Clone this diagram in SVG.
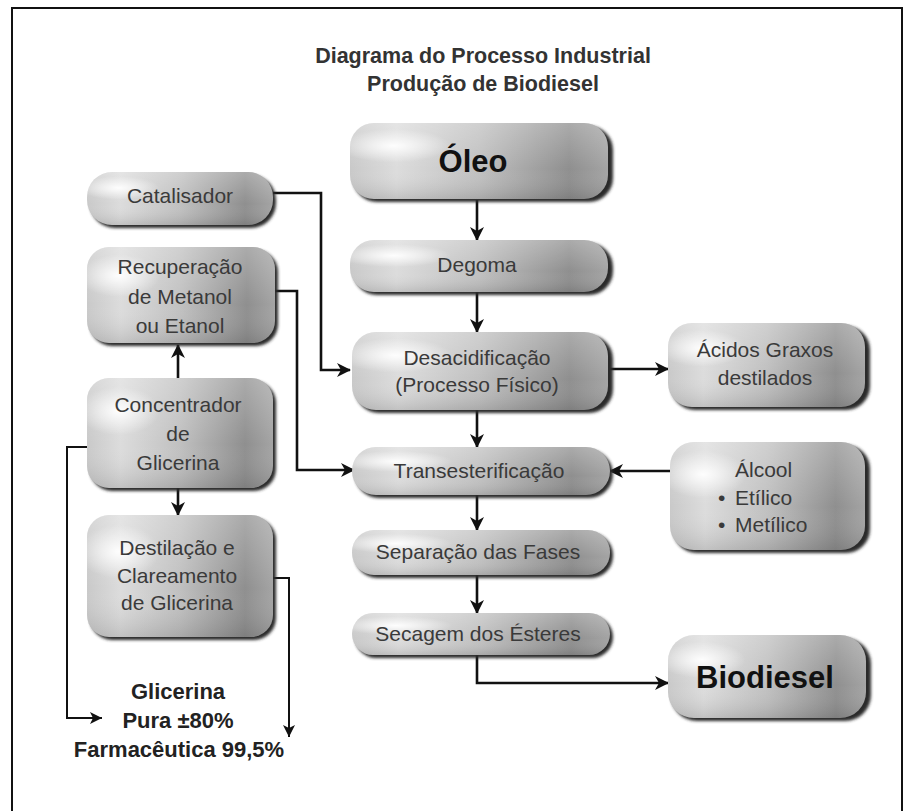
<svg xmlns="http://www.w3.org/2000/svg" width="906" height="811" viewBox="0 0 906 811">
  <defs>
    <linearGradient id="bodyH" x1="0" y1="0" x2="1" y2="0">
      <stop offset="0" stop-color="#c9c9c9"/>
      <stop offset="0.18" stop-color="#dcdcdc"/>
      <stop offset="0.5" stop-color="#c0c0c0"/>
      <stop offset="0.85" stop-color="#8f8f8f"/>
      <stop offset="1" stop-color="#a4a4a4"/>
    </linearGradient>
    <linearGradient id="bodyV" x1="0" y1="0" x2="0" y2="1">
      <stop offset="0" stop-color="#ffffff" stop-opacity="0.25"/>
      <stop offset="0.6" stop-color="#ffffff" stop-opacity="0"/>
      <stop offset="1" stop-color="#000000" stop-opacity="0.12"/>
    </linearGradient>
    <radialGradient id="shine" cx="0.17" cy="0.3" r="0.22">
      <stop offset="0" stop-color="#ffffff" stop-opacity="0.95"/>
      <stop offset="1" stop-color="#ffffff" stop-opacity="0"/>
    </radialGradient>
    <filter id="soft" x="-10%" y="-10%" width="120%" height="130%">
      <feGaussianBlur stdDeviation="1.4"/>
    </filter>
    <marker id="arr" markerUnits="userSpaceOnUse" markerWidth="16" markerHeight="14" refX="13" refY="7" orient="auto">
      <path d="M0,0 L14,7 L0,14 L4,7 z" fill="#111"/>
    </marker>
    <marker id="arrS" markerUnits="userSpaceOnUse" markerWidth="14" markerHeight="12" refX="12" refY="6" orient="auto">
      <path d="M0,0 L12,6 L0,12 L3,6 z" fill="#111"/>
    </marker>
  </defs>
  <style>
    .frame { fill: #ffffff; stroke: #111; stroke-width: 2; }
    .shadow { fill: #2b2b2b; filter: url(#soft); }
    .body { fill: url(#bodyH); }
    .tone { fill: url(#bodyV); }
    .shine { fill: url(#shine); }
    .lbl { font-family: "Liberation Sans", Arial, sans-serif; font-size: 21px; fill: #3a3a3a; text-anchor: middle; }
    .lbl.left { text-anchor: start; }
    .big { font-family: "Liberation Sans", Arial, sans-serif; font-weight: bold; fill: #111; text-anchor: middle; }
    .title { font-family: "Liberation Sans", Arial, sans-serif; font-weight: bold; font-size: 21.5px; fill: #333; text-anchor: middle; }
    .glic { font-family: "Liberation Sans", Arial, sans-serif; font-weight: bold; font-size: 22px; fill: #222; text-anchor: middle; }
    .wire { fill: none; stroke: #111; stroke-width: 2.6; }
    .thin { fill: none; stroke: #111; stroke-width: 2; }
  </style>

  <!-- page frame -->
  <rect class="frame" x="12" y="8" width="890" height="820"/>

  <!-- title -->
  <text class="title" x="483" y="63">Diagrama do Processo Industrial</text>
  <text class="title" x="483" y="91">Produção de Biodiesel</text>

  <!-- connectors -->
  <g id="connectors">
    <line class="wire" x1="477" y1="200" x2="477" y2="240" marker-end="url(#arr)"/>
    <line class="wire" x1="477" y1="292" x2="477" y2="332" marker-end="url(#arr)"/>
    <line class="wire" x1="477" y1="410" x2="477" y2="447" marker-end="url(#arr)"/>
    <line class="wire" x1="477" y1="495" x2="477" y2="530" marker-end="url(#arr)"/>
    <line class="wire" x1="477" y1="575" x2="477" y2="613" marker-end="url(#arr)"/>
    <polyline class="wire" points="477,655 477,683 668,683" marker-end="url(#arr)"/>
    <line class="wire" x1="608" y1="369" x2="668" y2="369" marker-end="url(#arr)"/>
    <line class="wire" x1="670" y1="471" x2="610" y2="471" marker-end="url(#arr)"/>
    <polyline class="wire" points="273,193 321,193 321,370 350,370" marker-end="url(#arr)"/>
    <polyline class="wire" points="275,291 297,291 297,470 354,470" marker-end="url(#arr)"/>
    <line class="wire" x1="178" y1="378" x2="178" y2="345" marker-end="url(#arr)"/>
    <line class="wire" x1="178" y1="488" x2="178" y2="515" marker-end="url(#arr)"/>
    <polyline class="thin" points="90,447 67,447 67,718 102,718" marker-end="url(#arrS)"/>
    <polyline class="thin" points="273,578 289,578 289,737" marker-end="url(#arrS)"/>
  </g>

  <!-- main column -->
  <g id="oleo">
    <rect class="shadow" x="353" y="126" width="260" height="76" rx="24"/>
    <rect class="body" x="350" y="123" width="258" height="76" rx="24"/>
    <rect class="tone" x="350" y="123" width="258" height="76" rx="24"/>
    <rect class="shine" x="350" y="123" width="258" height="76" rx="24"/>
    <text class="big" x="473" y="172" font-size="31">Óleo</text>
  </g>
  <g id="degoma">
    <rect class="shadow" x="353" y="243" width="260" height="52" rx="24"/>
    <rect class="body" x="350" y="240" width="258" height="52" rx="24"/>
    <rect class="tone" x="350" y="240" width="258" height="52" rx="24"/>
    <rect class="shine" x="350" y="240" width="258" height="52" rx="24"/>
    <text class="lbl" x="477" y="272">Degoma</text>
  </g>
  <g id="desacidificacao">
    <rect class="shadow" x="355" y="335" width="258" height="78" rx="24"/>
    <rect class="body" x="352" y="332" width="256" height="78" rx="24"/>
    <rect class="tone" x="352" y="332" width="256" height="78" rx="24"/>
    <rect class="shine" x="352" y="332" width="256" height="78" rx="24"/>
    <text class="lbl" x="477" y="365">Desacidificação</text>
    <text class="lbl" x="477" y="392">(Processo Físico)</text>
  </g>
  <g id="transesterificacao">
    <rect class="shadow" x="355" y="450" width="258" height="48" rx="24"/>
    <rect class="body" x="352" y="447" width="258" height="48" rx="24"/>
    <rect class="tone" x="352" y="447" width="258" height="48" rx="24"/>
    <rect class="shine" x="352" y="447" width="258" height="48" rx="24"/>
    <text class="lbl" x="479" y="478">Transesterificação</text>
  </g>
  <g id="separacao">
    <rect class="shadow" x="355" y="533" width="258" height="45" rx="22"/>
    <rect class="body" x="352" y="530" width="258" height="45" rx="22"/>
    <rect class="tone" x="352" y="530" width="258" height="45" rx="22"/>
    <rect class="shine" x="352" y="530" width="258" height="45" rx="22"/>
    <text class="lbl" x="478" y="559">Separação das Fases</text>
  </g>
  <g id="secagem">
    <rect class="shadow" x="355" y="616" width="258" height="42" rx="21"/>
    <rect class="body" x="352" y="613" width="258" height="42" rx="21"/>
    <rect class="tone" x="352" y="613" width="258" height="42" rx="21"/>
    <rect class="shine" x="352" y="613" width="258" height="42" rx="21"/>
    <text class="lbl" x="478" y="641">Secagem dos Ésteres</text>
  </g>

  <!-- right column -->
  <g id="acidos-graxos">
    <rect class="shadow" x="671" y="326" width="199" height="84" rx="24"/>
    <rect class="body" x="668" y="323" width="197" height="84" rx="24"/>
    <rect class="tone" x="668" y="323" width="197" height="84" rx="24"/>
    <rect class="shine" x="668" y="323" width="197" height="84" rx="24"/>
    <text class="lbl" x="765" y="357">Ácidos Graxos</text>
    <text class="lbl" x="765" y="385">destilados</text>
  </g>
  <g id="alcool">
    <rect class="shadow" x="673" y="445" width="197" height="108" rx="24"/>
    <rect class="body" x="670" y="442" width="195" height="108" rx="24"/>
    <rect class="tone" x="670" y="442" width="195" height="108" rx="24"/>
    <rect class="shine" x="670" y="442" width="195" height="108" rx="24"/>
    <text class="lbl left" x="735" y="477">Álcool</text>
    <text class="lbl left" x="718" y="505">•</text>
    <text class="lbl left" x="735" y="505">Etílico</text>
    <text class="lbl left" x="718" y="532">•</text>
    <text class="lbl left" x="735" y="532">Metílico</text>
  </g>
  <g id="biodiesel">
    <rect class="shadow" x="671" y="638" width="200" height="83" rx="26"/>
    <rect class="body" x="668" y="635" width="198" height="83" rx="26"/>
    <rect class="tone" x="668" y="635" width="198" height="83" rx="26"/>
    <rect class="shine" x="668" y="635" width="198" height="83" rx="26"/>
    <text class="big" x="765" y="688" font-size="31">Biodiesel</text>
  </g>

  <!-- left column -->
  <g id="catalisador">
    <rect class="shadow" x="90" y="175" width="186" height="53" rx="25"/>
    <rect class="body" x="87" y="172" width="186" height="53" rx="25"/>
    <rect class="tone" x="87" y="172" width="186" height="53" rx="25"/>
    <rect class="shine" x="87" y="172" width="186" height="53" rx="25"/>
    <text class="lbl" x="180" y="203">Catalisador</text>
  </g>
  <g id="recuperacao">
    <rect class="shadow" x="90" y="250" width="188" height="96" rx="22"/>
    <rect class="body" x="87" y="247" width="188" height="96" rx="22"/>
    <rect class="tone" x="87" y="247" width="188" height="96" rx="22"/>
    <rect class="shine" x="87" y="247" width="188" height="96" rx="22"/>
    <text class="lbl" x="180" y="274">Recuperação</text>
    <text class="lbl" x="180" y="304">de Metanol</text>
    <text class="lbl" x="180" y="333">ou Etanol</text>
  </g>
  <g id="concentrador">
    <rect class="shadow" x="90" y="381" width="186" height="110" rx="22"/>
    <rect class="body" x="87" y="378" width="186" height="110" rx="22"/>
    <rect class="tone" x="87" y="378" width="186" height="110" rx="22"/>
    <rect class="shine" x="87" y="378" width="186" height="110" rx="22"/>
    <text class="lbl" x="178" y="412">Concentrador</text>
    <text class="lbl" x="178" y="441">de</text>
    <text class="lbl" x="178" y="470">Glicerina</text>
  </g>
  <g id="destilacao">
    <rect class="shadow" x="90" y="518" width="186" height="122" rx="22"/>
    <rect class="body" x="87" y="515" width="186" height="122" rx="22"/>
    <rect class="tone" x="87" y="515" width="186" height="122" rx="22"/>
    <rect class="shine" x="87" y="515" width="186" height="122" rx="22"/>
    <text class="lbl" x="177" y="555">Destilação e</text>
    <text class="lbl" x="177" y="583">Clareamento</text>
    <text class="lbl" x="177" y="610">de Glicerina</text>
  </g>

  <!-- glycerine products -->
  <g id="glicerina">
    <text class="glic" x="178" y="699">Glicerina</text>
    <text class="glic" x="178" y="728">Pura ±80%</text>
    <text class="glic" x="179" y="757">Farmacêutica 99,5%</text>
  </g>
</svg>
